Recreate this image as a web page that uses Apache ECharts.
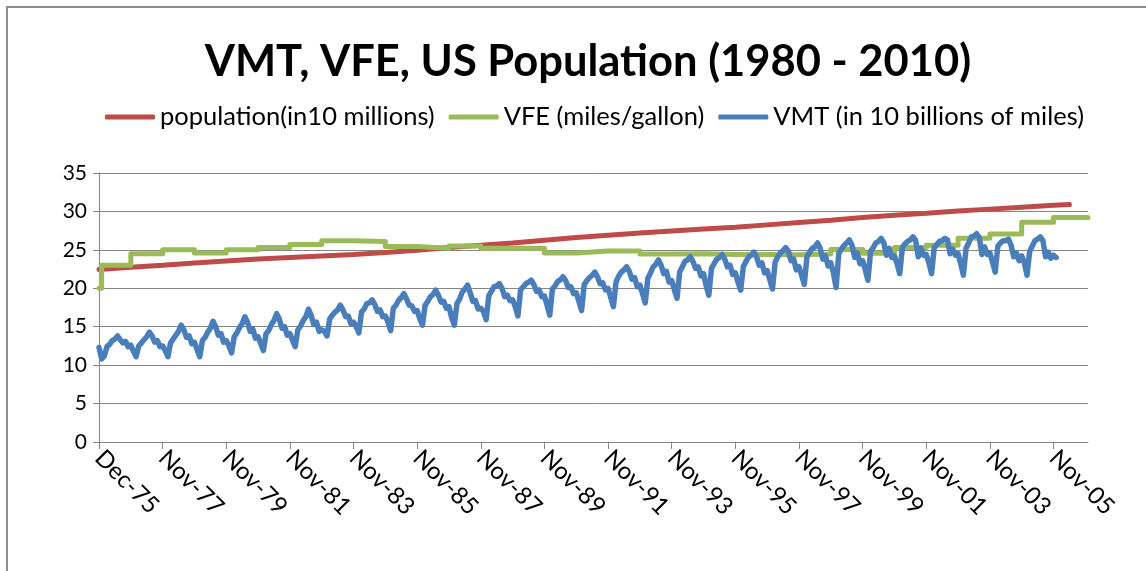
<!DOCTYPE html>
<html>
<head>
<meta charset="utf-8">
<script src="https://cdn.jsdelivr.net/npm/echarts@6/dist/echarts.min.js"></script>
<style>
  html, body { margin: 0; padding: 0; background: #fff; }
  #chart { width: 1146px; height: 571px; }
</style>
</head>
<body>
<div id="chart"></div>
<script>
// ---------- DATA ----------
const MONTHS = ['Jan','Feb','Mar','Apr','May','Jun','Jul','Aug','Sep','Oct','Nov','Dec'];
const CATEGORY_COUNT = 374; // Dec-75 .. Jan-07 (monthly)
const TICK_LABELS = ['Dec-75','Nov-77','Nov-79','Nov-81','Nov-83','Nov-85','Nov-87','Nov-89',
                     'Nov-91','Nov-93','Nov-95','Nov-97','Nov-99','Nov-01','Nov-03','Nov-05'];

// VMT (in 10 billions of miles), monthly
const VMT_DEC_1975 = [12.3];
const VMT_1976_1979 = [
  10.8, 11.2, 12.4, 12.7, 13.2, 13.4, 13.8, 13.3, 12.9, 13.1, 12.4, 12.6,
  11.8, 11.1, 12.5, 12.9, 13.3, 13.7, 14.3, 13.8, 13.0, 13.2, 12.4, 12.5,
  11.9, 11.1, 12.9, 13.4, 13.9, 14.4, 15.2, 14.6, 13.6, 13.8, 12.8, 13.0,
  12.0, 11.1, 13.2, 13.6, 14.3, 14.8, 15.7, 15.0, 13.9, 14.1, 13.0, 13.2
];
const VMT_1980_1989 = [
  12.5, 11.6, 13.7, 14.2, 14.9, 15.4, 16.3, 15.6, 14.4, 14.7, 13.5, 13.7,
  12.8, 11.9, 14.1, 14.5, 15.3, 15.8, 16.7, 16.0, 14.8, 15.0, 13.9, 14.1,
  13.2, 12.4, 14.6, 15.1, 15.8, 16.3, 17.3, 16.5, 15.3, 15.6, 14.4, 14.6,
  14.4, 13.8, 16.0, 16.5, 16.9, 17.2, 17.8, 17.2, 16.3, 16.4, 15.4, 15.6,
  15.0, 14.2, 16.9, 17.3, 18.0, 18.1, 18.5, 17.9, 17.0, 17.2, 16.3, 16.4,
  15.6, 14.5, 17.4, 17.8, 18.45, 18.8, 19.3, 18.6, 17.8, 17.7, 17.0, 17.1,
  16.0, 15.2, 17.8, 18.3, 18.9, 19.2, 19.75, 19.1, 18.2, 18.3, 17.4, 17.6,
  16.2, 15.2, 18.0, 18.6, 19.5, 19.9, 20.4, 19.4, 18.3, 18.4, 17.3, 17.4,
  17.0, 15.9, 19.0, 19.6, 20.2, 20.3, 20.6, 20.0, 18.9, 19.1, 18.4, 18.5,
  17.6, 16.4, 19.8, 20.2, 20.6, 20.8, 21.05, 20.5, 19.6, 19.8, 18.9, 19.0
];
const VMT_1990_1999 = [
  17.8, 16.5, 19.9, 20.3, 20.9, 21.1, 21.5, 21.0, 20.1, 20.2, 19.3, 19.4,
  18.3, 17.1, 20.5, 21.0, 21.4, 21.7, 22.1, 21.5, 20.6, 20.7, 19.8, 20.0,
  18.8, 17.6, 20.8, 21.6, 22.1, 22.4, 22.8, 22.2, 21.2, 21.4, 20.2, 20.4,
  19.3, 18.1, 21.3, 22.0, 22.8, 23.1, 23.7, 23.0, 21.9, 22.2, 20.8, 21.0,
  19.8, 18.7, 22.1, 22.8, 23.5, 23.7, 24.1, 23.5, 22.6, 22.8, 21.6, 21.9,
  20.3, 19.1, 22.6, 23.2, 23.8, 24.0, 24.4, 23.8, 22.8, 23.0, 21.8, 22.0,
  20.8, 19.75, 22.8, 23.5, 24.1, 24.3, 24.7, 24.1, 23.0, 23.3, 22.0, 22.3,
  21.1, 19.9, 23.4, 24.1, 24.6, 24.9, 25.3, 24.8, 23.6, 23.8, 22.4, 22.8,
  21.7, 20.5, 24.1, 24.7, 25.2, 25.4, 25.9, 25.2, 23.8, 24.2, 22.9, 23.3,
  22.0, 20.1, 24.5, 25.1, 25.6, 25.9, 26.3, 25.6, 24.0, 24.6, 23.2, 23.6
];
const VMT_2000_2006 = [
  22.4, 21.05, 24.8, 25.3, 25.9, 26.1, 26.5, 25.9, 24.3, 25.2, 24.0, 24.2,
  23.2, 21.9, 25.3, 25.8, 26.1, 26.3, 26.7, 26.2, 24.1, 25.2, 24.3, 24.4,
  23.3, 21.9, 25.3, 25.7, 26.1, 26.2, 26.5, 26.3, 24.5, 25.1, 24.3, 24.5,
  23.2, 21.7, 25.2, 25.9, 26.7, 26.8, 27.1, 26.6, 24.4, 25.4, 24.4, 24.6,
  23.4, 22.1, 25.5, 25.9, 26.2, 26.2, 26.4, 25.6, 24.1, 24.6, 23.6, 24.2,
  23.3, 21.7, 24.8, 25.5, 26.2, 26.4, 26.7, 26.2, 24.1, 24.7, 23.9, 24.3,
  24.0
];

// VFE (miles/gallon): first point, then one value per 12-month step
const VFE_FIRST = 20.0;
const VFE_STEPS = [23.0, 24.5, 25.0, 24.6, 25.0, 25.3, 25.7, 26.2, 26.1, 25.45,
                   25.2, 25.5, 25.2, 25.2, 24.6, 24.85, 24.85, 24.45, 24.5, 24.4,
                   24.4, 24.35, 24.45, 25.05, 24.55, 25.3, 25.6, 26.5, 27.05, 28.6, 29.2];

// Population (in 10 millions): yearly readings (every 12 months) + last point
const POP_YEARLY = [22.45, 22.75, 23.0, 23.3, 23.55, 23.8, 24.0, 24.2, 24.4, 24.65,
                    24.95, 25.3, 25.6, 25.9, 26.25, 26.6, 26.9, 27.2, 27.45, 27.7,
                    27.95, 28.25, 28.55, 28.85, 29.2, 29.5, 29.75, 30.05, 30.3, 30.55, 30.8];
const POP_LAST = 30.9;
const POP_LAST_INDEX = 366;

// ---------- BUILD ----------
const categories = [];
for (let i = 0; i < CATEGORY_COUNT; i++) {
  const m = (11 + i) % 12;
  const y = 1975 + Math.floor((11 + i) / 12);
  categories.push(MONTHS[m] + '-' + String(y % 100).padStart(2, '0'));
}
const vmt = [].concat(VMT_DEC_1975, VMT_1976_1979, VMT_1980_1989, VMT_1990_1999, VMT_2000_2006);

const vfe = [[0, VFE_FIRST]];
VFE_STEPS.forEach((v, k) => vfe.push([Math.max(1, 12 * k), v]));
vfe.push([CATEGORY_COUNT - 1, VFE_STEPS[VFE_STEPS.length - 1]]);

const pop = POP_YEARLY.map((v, k) => [12 * k, v]);
pop.push([POP_LAST_INDEX, POP_LAST]);

const FONT = 'Lato';
const tickEvery = (i) => i % 24 === 0;

const chart = echarts.init(document.getElementById('chart'), null, { renderer: 'canvas' });
chart.setOption({
  animation: false,
  backgroundColor: '#ffffff',
  graphic: [{
    type: 'rect', z: -1,
    shape: { x: 7, y: 7, width: 1160, height: 620 },
    style: { fill: 'none', stroke: '#8c8c8c', lineWidth: 2 }
  }],
  title: {
    text: 'VMT, VFE, US Population (1980 - 2010)',
    left: 583, textAlign: 'center', top: 35,
    textStyle: { fontFamily: FONT, fontSize: 43.5, fontWeight: 'bold', color: '#000' }
  },
  legend: {
    left: 100, top: 99,
    icon: 'roundRect', itemWidth: 50, itemHeight: 5, itemGap: 14,
    textStyle: { fontFamily: FONT, fontSize: 25.5, color: '#000' },
    data: ['population(in10 millions)', 'VFE (miles/gallon)', 'VMT (in 10 billions of miles)']
  },
  grid: { left: 99, right: 58, top: 173, bottom: 129 },
  xAxis: {
    type: 'category', data: categories, boundaryGap: false,
    axisLine: { lineStyle: { color: '#868686', width: 1 } },
    axisTick: { show: true, interval: tickEvery, length: 7, lineStyle: { color: '#868686' } },
    axisLabel: {
      interval: tickEvery, rotate: -45, margin: 12,
      fontFamily: FONT, fontSize: 24, color: '#000',
      formatter: (v, i) => TICK_LABELS[i / 24]
    },
    splitLine: { show: false }
  },
  yAxis: {
    type: 'value', min: 0, max: 35, interval: 5,
    axisLine: { show: true, lineStyle: { color: '#868686', width: 1 } },
    axisTick: { show: true, length: 6, lineStyle: { color: '#868686' } },
    axisLabel: { fontFamily: FONT, fontSize: 21, color: '#000', margin: 12 },
    splitLine: { lineStyle: { color: '#868686', width: 1 } }
  },
  series: [
    {
      name: 'population(in10 millions)', type: 'line', data: pop,
      showSymbol: false, symbol: 'none',
      lineStyle: { color: '#BE4B48', width: 5, cap: 'round' },
      itemStyle: { color: '#BE4B48' }
    },
    {
      name: 'VFE (miles/gallon)', type: 'line', data: vfe, step: 'end',
      showSymbol: false, symbol: 'none',
      lineStyle: { color: '#9BBB59', width: 5, cap: 'round', join: 'round' },
      itemStyle: { color: '#9BBB59' }
    },
    {
      name: 'VMT (in 10 billions of miles)', type: 'line', data: vmt,
      showSymbol: false, symbol: 'none',
      lineStyle: { color: '#4A7EBB', width: 5.5, cap: 'round', join: 'round' },
      itemStyle: { color: '#4A7EBB' }
    }
  ]
});
</script>
</body>
</html>
